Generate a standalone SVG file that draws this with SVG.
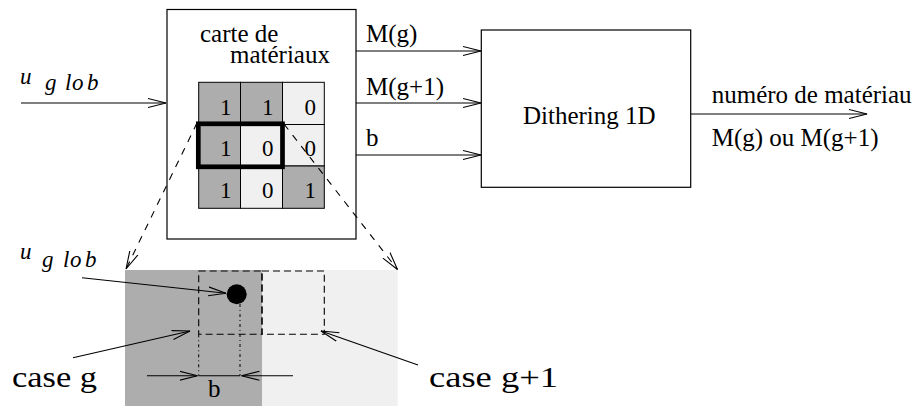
<svg xmlns="http://www.w3.org/2000/svg" width="914" height="406" viewBox="0 0 914 406">
<defs>
<style>
.t{font-family:"Liberation Serif","Times New Roman",serif;font-size:25px;fill:#000}
.d{font-family:"Liberation Serif","Times New Roman",serif;font-size:23px;fill:#000;text-anchor:end}
.cm{font-family:"Liberation Serif","Times New Roman",serif;font-size:29px;fill:#000}
.mi{font-family:"Liberation Serif","Times New Roman",serif;font-style:italic;font-size:23px;fill:#000}
.box{fill:#fff;stroke:#000;stroke-width:1.2}
.dk{fill:#adadad}
.lt{fill:#f0f0f0}
.cell{stroke:#000;stroke-width:1}
.ln{fill:none;stroke:#000;stroke-width:1.1}
.dash{stroke-dasharray:7,7}
.dr{fill:none;stroke:#000;stroke-width:1.1;stroke-dasharray:7,4}
.dot{fill:none;stroke:#000;stroke-width:1;stroke-dasharray:3,3,1,3}
</style>
<marker id="ah" markerWidth="20" markerHeight="12" refX="18" refY="6" orient="auto" markerUnits="userSpaceOnUse">
<path d="M0,1.5 L18,6 L0,10.5" fill="none" stroke="#000" stroke-width="1.1"/>
</marker>
</defs>

<g id="carte">
<rect class="box" x="167" y="9.5" width="189" height="229.5"/>
<text class="t" x="200" y="41.5">carte de</text>
<text class="t" x="230" y="62.5">matériaux</text>
<g id="grille">
<rect class="dk cell" x="198.7" y="82.3" width="41.8" height="42.2"/>
<rect class="dk cell" x="240.5" y="82.3" width="42" height="42.2"/>
<rect class="lt cell" x="282.5" y="82.3" width="41.8" height="42.2"/>
<rect class="dk cell" x="198.7" y="124.5" width="41.8" height="41.5"/>
<rect class="lt cell" x="240.5" y="124.5" width="42" height="41.5"/>
<rect class="lt cell" x="282.5" y="124.5" width="41.8" height="41.5"/>
<rect class="dk cell" x="198.7" y="166" width="41.8" height="42.3"/>
<rect class="lt cell" x="240.5" y="166" width="42" height="42.3"/>
<rect class="dk cell" x="282.5" y="166" width="41.8" height="42.3"/>
<text class="d" x="231.5" y="114.5">1</text>
<text class="d" x="273.5" y="114.5">1</text>
<text class="d" x="316" y="114.5">0</text>
<text class="d" x="231.5" y="156">1</text>
<text class="d" x="273.5" y="156">0</text>
<text class="d" x="316" y="156">0</text>
<text class="d" x="231.5" y="197.7">1</text>
<text class="d" x="273.5" y="197.7">0</text>
<text class="d" x="316" y="197.7">1</text>
<rect x="198.3" y="123.8" width="84.2" height="43" fill="none" stroke="#000" stroke-width="4.7"/>
</g>
</g>

<g id="dithering">
<rect class="box" x="481.3" y="30" width="209.4" height="157.3"/>
<text class="t" x="523" y="124">Dithering 1D</text>
</g>

<g id="zoom">
<rect class="dk" x="125" y="270" width="137.3" height="136"/>
<rect class="lt" x="262.3" y="270" width="135.4" height="136"/>
<rect class="dr" x="198.7" y="271" width="63.3" height="63.3"/>
<rect class="dr" x="262" y="271" width="62.3" height="63.3"/>
<circle cx="236.7" cy="294.3" r="10" fill="#000"/>
<line class="dot" x1="198.7" y1="334.3" x2="198.7" y2="375.7"/>
<line class="dot" x1="240" y1="304" x2="240" y2="375.7"/>
</g>

<g id="labels">
<text class="mi"><tspan x="20" y="83.5">u</tspan><tspan x="45" y="90">g</tspan><tspan x="65" y="90">l</tspan><tspan x="72" y="90">o</tspan><tspan x="87" y="90">b</tspan></text>
<text class="mi"><tspan x="20" y="258.5">u</tspan><tspan x="42" y="266.5">g</tspan><tspan x="63" y="266.5">l</tspan><tspan x="70" y="266.5">o</tspan><tspan x="85" y="266.5">b</tspan></text>
<text class="t" x="366" y="42">M(g)</text>
<text class="t" x="366" y="94.5">M(g+1)</text>
<text class="t" x="366" y="145.5">b</text>
<text class="t" x="711.7" y="103">numéro de matériau</text>
<text class="t" x="711.7" y="145.5">M(g) ou M(g+1)</text>
<text class="cm" x="12" y="386.5" textLength="85" lengthAdjust="spacingAndGlyphs">case g</text>
<text class="cm" x="429" y="386.5" textLength="129" lengthAdjust="spacingAndGlyphs">case g+1</text>
<text class="t" x="208" y="396.5">b</text>
</g>

<g id="connecteurs">
<line class="ln" x1="21" y1="103" x2="166" y2="103" marker-end="url(#ah)"/>
<line class="ln" x1="356" y1="51" x2="481" y2="51" marker-end="url(#ah)"/>
<line class="ln" x1="356" y1="103" x2="481" y2="103" marker-end="url(#ah)"/>
<line class="ln" x1="356" y1="155" x2="481" y2="155" marker-end="url(#ah)"/>
<line class="ln" x1="691" y1="114" x2="867" y2="114" marker-end="url(#ah)"/>
<line class="ln dash" x1="197" y1="123" x2="126" y2="269" marker-end="url(#ah)"/>
<line class="ln dash" x1="284" y1="124" x2="397.5" y2="269.5" marker-end="url(#ah)"/>
<line class="ln" x1="82" y1="277.7" x2="226" y2="293.3" marker-end="url(#ah)"/>
<line class="ln" x1="73" y1="357.7" x2="190" y2="331" marker-end="url(#ah)"/>
<line class="ln" x1="418" y1="365" x2="321" y2="331" marker-end="url(#ah)"/>
<line class="ln" x1="147" y1="375.7" x2="197.5" y2="375.7" marker-end="url(#ah)"/>
<line class="ln" x1="293" y1="375.7" x2="241.5" y2="375.7" marker-end="url(#ah)"/>
<line class="ln" x1="198.7" y1="375.7" x2="240" y2="375.7"/>
</g>
</svg>
